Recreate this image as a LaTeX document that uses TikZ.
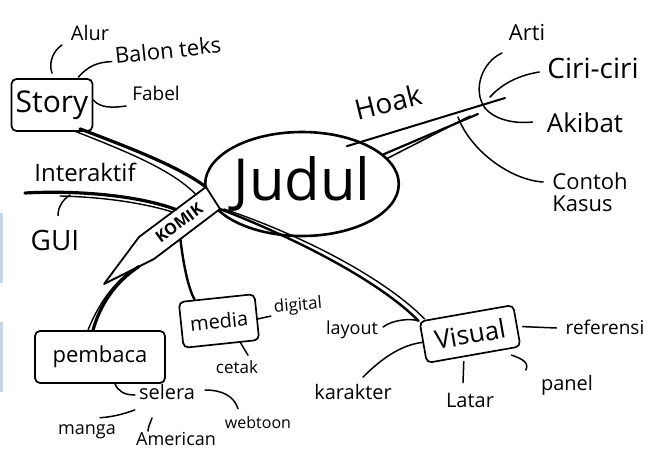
\documentclass[tikz,border=0pt]{standalone}
\usepackage{fontspec}
\setmainfont{Open Sans}
\usetikzlibrary{shapes.geometric,calc}
\definecolor{strip}{RGB}{198,212,228}
\begin{document}
\begin{tikzpicture}[x=1pt,y=-1pt,
 lbl/.style={font=\fontsize{#1}{#1}\selectfont, inner sep=0pt},
 ink/.style={line width=1.5pt, line cap=round, line join=round},
 brush/.style={line width=3.2pt, line cap=round},
 thinbrush/.style={line width=1.4pt, line cap=round},
 box/.style={draw, line width=1.7pt, rounded corners=5pt, inner sep=0pt},
]
\useasboundingbox (0,0) rectangle (651,453);
\fill[white] (0,0) rectangle (651,453);
\fill[strip] (0,213) rectangle (3,283);
\fill[strip] (0,322) rectangle (3,392);

% centre
\node[draw, ellipse, line width=2.6pt, inner sep=0pt, minimum width=178pt, minimum height=104pt, font=\fontsize{58}{58}\selectfont] (judul) at (302,184) {Judul};

% KOMIK banner
\coordinate (kTR) at (206,187);
\coordinate (kBR) at (220,209);
\coordinate (kBL) at (154,259);
\coordinate (kTip) at (104,284);
\coordinate (kTL) at (139,237);
\draw[ink, line width=1.8pt, fill=white] (kTR) -- (kBR) -- (kBL) -- (kTip) -- (kTL) -- cycle;
\node[rotate=36, inner sep=0pt, font=\bfseries\fontsize{16}{16}\selectfont] (komik) at (179,223) {KOMIK};

% Story
\node[box, lbl=30, minimum width=81pt, minimum height=52pt] (story) at (52,105) {Story};
\node[lbl=20] (alur) at (90,33) {Alur};
\node[lbl=22, rotate=6] (balon) at (168,50) {Balon teks};
\node[lbl=19] (fabel) at (156,93) {Fabel};
\draw[ink] ([shift={(0,-5)}]story.north) .. controls (48,62) and (54,50) .. ([shift={(-28,12)}]alur.center);
\draw[ink] ([shift={(-15,-1)}]story.north east) .. controls (88,66) and (98,62) .. ([shift={(-3,6)}]balon.west);
\draw[ink] ([shift={(0,-5)}]story.east) .. controls (100,108) and (112,108) .. ([shift={(-6,13)}]fabel.west);
\draw[brush] ([shift={(28,-3)}]story.south) .. controls (130,148) and (178,166) .. (kTR);
\draw[thinbrush] ([shift={(22,-1)}]story.south) .. controls (128,152) and (172,170) .. ($(kTR)!0.15!(kTL)$);

% Interaktif / GUI
\node[lbl=24] (interaktif) at (85,172) {Interaktif};
\node[lbl=28] (gui) at (55,240) {GUI};
\coordinate (iL) at (25,193);
\coordinate (iM) at (70,195);
\draw[brush] (iL) .. controls (80,190) and (140,196) .. ($(kTR)!0.45!(kTL)$);
\draw[thinbrush] (60,196) .. controls (100,197) and (140,202) .. ($(kTR)!0.5!(kTL)$);
\draw[ink] ([shift={(3,-14)}]gui.north) .. controls (58,208) and (62,200) .. (iM);

% Pembaca
\node[box, lbl=22, minimum width=130pt, minimum height=52pt] (pembaca) at (100,357) {pembaca};
\draw[brush] ($(kBL)!0.3!(kTip)$) .. controls (115,282) and (100,305) .. ([shift={(-7,0)}]pembaca.north);
\draw[thinbrush] ($(kBL)!0.45!(kTip)$) .. controls (112,285) and (98,305) .. ([shift={(-12,0)}]pembaca.north);
\node[lbl=20] (selera) at (167,392) {selera};
\node[lbl=18] (manga) at (87,432) {manga};
\node[lbl=18] (american) at (176,439) {American};
\node[lbl=16] (webtoon) at (258,422) {webtoon};
\draw[ink] ([shift={(15,0)}]pembaca.south) .. controls (118,391) and (124,395) .. ([shift={(-4,3)}]selera.west);
\draw[ink] ([shift={(10,-2)}]selera.east) .. controls (222,390) and (234,396) .. ([shift={(-20,-7)}]webtoon.north);
\draw[ink] ([shift={(13,-7)}]manga.north) .. controls (112,417) and (124,414) .. ([shift={(-4,10)}]selera.south west);
\draw[ink] ([shift={(-15,18)}]selera.south) .. controls (150,424) and (148,427) .. ([shift={(-28,-1)}]american.north);

% Media
\node[box, lbl=20, rotate=6, minimum width=76pt, minimum height=46pt] (media) at (219,321) {media};
\node[lbl=17, rotate=5] (digital) at (298,306) {digital};
\node[lbl=17] (cetak) at (237,367) {cetak};
\draw[brush, line width=2.4pt] ($(kBR)!0.6!(kBL)$) .. controls (183,262) and (188,288) .. ([shift={(-22,2)}]media.north);
\draw[ink] ([shift={(0,2)}]media.east) -- ([shift={(-3,8)}]digital.west);
\draw[ink] ([shift={(19,-2)}]media.south) -- ([shift={(11,-5)}]cetak.north);

% Visual
\node[box, lbl=26, rotate=10, minimum width=95pt, minimum height=42pt] (visual) at (470,334) {Visual};
\node[lbl=18] (layout) at (352,330) {layout};
\node[lbl=20] (karakter) at (353,392) {karakter};
\node[lbl=20] (latar) at (470,400) {Latar};
\node[lbl=20] (panel) at (567,385) {panel};
\node[lbl=19] (referensi) at (605,327) {referensi};
\draw[brush, line width=2.4pt] (kBR) .. controls (300,240) and (380,282) .. (visual.north west);
\draw[thinbrush] ([shift={(4,0)}]kBR) .. controls (304,236) and (384,278) .. ([shift={(6,-2)}]visual.north west);
\draw[ink] ([shift={(5,-3)}]layout.east) .. controls (392,320) and (410,318) .. (visual.north west);
\draw[ink] ([shift={(10,-7)}]karakter.north) .. controls (380,360) and (400,345) .. (visual.west);
\draw[ink] ([shift={(-10,6)}]visual.south) -- ([shift={(-7,-10)}]latar.north);
\draw[ink] ([shift={(-10,8)}]visual.south east) .. controls (520,358) and (530,362) .. ([shift={(-15,-15)}]panel.west);
\draw[ink] ([shift={(5,1)}]visual.east) -- ([shift={(-9,1)}]referensi.west);

% Hoak
\coordinate (hub) at (500,100);
\coordinate (hL) at (458,117);
\node[lbl=28, rotate=14] (hoak) at (388,102) {Hoak};
\node[lbl=22] (arti) at (527,33) {Arti};
\node[lbl=28] (ciri) at (593,68) {Ciri-ciri};
\node[lbl=26] (akibat) at (585,123) {Akibat};
\node[lbl=22, align=left] (contoh) at (590,192) {Contoh\\Kasus};
\draw[ink, line width=2pt] ([shift={(10,12)}]judul.55) -- ([shift={(5,-2)}]hub);
\draw[ink, line width=2.2pt] (judul.20) -- ([shift={(-22,14)}]hub);
\draw[ink] ([shift={(4,4)}]judul.20) -- ([shift={(-30,16)}]hub);
\draw[ink] ([shift={(-25,20)}]arti.center) .. controls (482,62) and (472,90) .. (485,108) .. controls (495,120) and (515,124) .. ([shift={(-14,-1)}]akibat.west);
\draw[ink] ([shift={(-8,4)}]ciri.west) .. controls (515,76) and (500,86) .. ([shift={(-10,-3)}]hub);
\draw[ink] (hL) .. controls (470,150) and (510,180) .. ([shift={(-9,-10)}]contoh.west);
\end{tikzpicture}
\end{document}
